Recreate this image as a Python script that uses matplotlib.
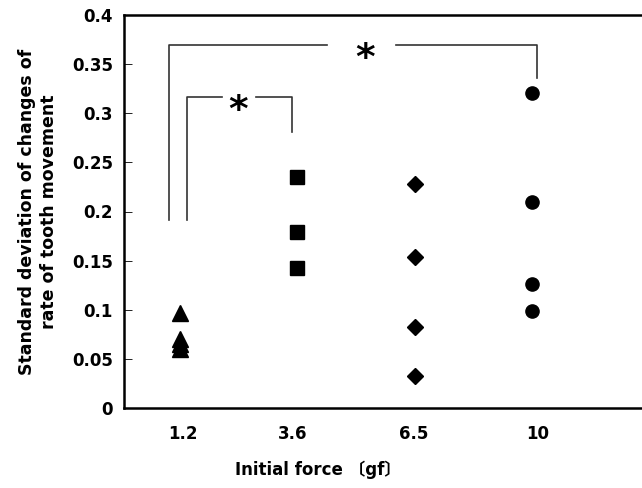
import numpy as np
import matplotlib.pyplot as plt

# dados
forca = ['1.2', '3.6', '6.5', '10']
dp_12 = [0.097, 0.070, 0.065, 0.060]
dp_36 = [0.235, 0.179, 0.143]
dp_65 = [0.228, 0.154, 0.082, 0.033]
dp_10 = [0.321, 0.210, 0.126, 0.099]

series = [dp_12, dp_36, dp_65, dp_10]
marcadores = ['^', 's', 'D', 'o']
tamanhos = [11, 9.5, 8.5, 9.5]

plt.rcParams['font.family'] = ['DejaVu Sans', 'Noto Sans CJK JP']
plt.rcParams['font.weight'] = 'bold'

fig = plt.figure(figsize=(6.42, 4.88), dpi=100)
ax = fig.add_axes([124 / 642, 80 / 488, 1 - 124 / 642, 393 / 488])

for i, vals in enumerate(series):
    ax.plot([i + 1] * len(vals), vals, linestyle='none', marker=marcadores[i],
            markersize=tamanhos[i], color='black')

# colchetes de significancia
ax.plot([0.906, 0.906, 2.25], [0.191, 0.3695, 0.3695], color='#333', lw=1.2)
ax.plot([2.84, 4.04, 4.04], [0.3695, 0.3695, 0.336], color='#333', lw=1.2)
ax.text(2.58, 0.355, '*', ha='center', va='center', fontsize=27, fontweight='bold')
ax.plot([1.06, 1.06, 1.36], [0.191, 0.3165, 0.3165], color='#333', lw=1.2)
ax.plot([1.65, 1.955, 1.955], [0.3165, 0.3165, 0.281], color='#333', lw=1.2)
ax.text(1.49, 0.302, '*', ha='center', va='center', fontsize=27, fontweight='bold')

ax.set_xlim(0.52, 4.94)
ax.set_ylim(0, 0.4)
ax.set_xticks([1.02, 1.96, 2.99, 4.05])
ax.set_xticklabels(forca, fontsize=12, fontweight='bold')
ax.set_yticks(np.arange(0, 0.401, 0.05))
ax.set_yticklabels(['0', '0.05', '0.1', '0.15', '0.2', '0.25', '0.3', '0.35', '0.4'],
                   fontsize=12, fontweight='bold')
ax.tick_params(axis='y', direction='in', length=6, width=0.6, pad=8)
ax.tick_params(axis='x', length=0, pad=12)

for s in ['left', 'bottom', 'top']:
    ax.spines[s].set_linewidth(1.8)
ax.spines['right'].set_visible(False)

ax.set_ylabel('Standard deviation of changes of\nrate of tooth movement',
              fontsize=12.5, fontweight='bold', labelpad=10, linespacing=1.3)
fig.text(318 / 642, 1 - 470 / 488, 'Initial force \u3014gf\u3015', ha='center',
         va='center', fontsize=12, fontweight='bold')

plt.savefig('out.png', dpi=100)
